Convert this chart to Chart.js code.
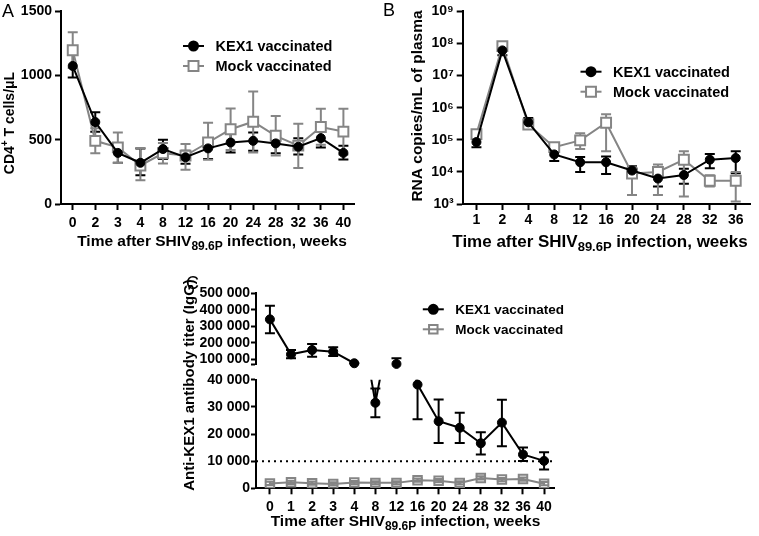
<!DOCTYPE html>
<html>
<head>
<meta charset="utf-8">
<script src="https://cdn.jsdelivr.net/npm/chart.js@4.4.0/dist/chart.umd.min.js"></script>
<style>
body { margin: 0; background: #fff; width: 759px; height: 536px; position: relative; overflow: hidden; }
canvas { position: absolute; }
</style>
</head>
<body>
<canvas id="chartA" width="380" height="260" style="left:0;top:0"></canvas>
<canvas id="chartB" width="379" height="260" style="left:380px;top:0"></canvas>
<canvas id="chartC2" width="420" height="276" style="left:180px;top:260px"></canvas>
<canvas id="chartC1" width="420" height="276" style="left:180px;top:260px"></canvas>
<script>
// panel A: CD4+ T cells
var weeksA = ['0', '2', '3', '4', '8', '12', '16', '20', '24', '28', '32', '36', '40'];
var kexA = [1075, 638, 398, 321, 428, 364, 433, 479, 492, 472, 446, 513, 398];
var kexALo = [985, 562, 321, 223, 351, 313, 351, 402, 415, 395, 385, 441, 346];
var kexAHi = [1160, 715, 472, 433, 500, 415, 505, 556, 556, 544, 513, 590, 454];
var mockA = [1198, 492, 441, 300, 395, 377, 479, 582, 641, 531, 455, 600, 564];
var mockALo = [1060, 395, 320, 185, 315, 267, 344, 420, 402, 377, 280, 462, 385];
var mockAHi = [1338, 590, 556, 436, 475, 467, 633, 744, 877, 685, 625, 741, 741];

// panel B: viral RNA
var weeksB = ['1', '2', '4', '8', '12', '16', '20', '24', '28', '32', '36'];
var kexB = [8.5e4, 6.1e7, 3.5e5, 3.5e4, 2.0e4, 2.0e4, 1.1e4, 6.2e3, 8.0e3, 2.4e4, 2.7e4];
var kexBLo = [5.9e4, 4.3e7, 2.5e5, 2.2e4, 1.0e4, 8.6e3, 8.5e3, 3.5e3, 4.3e3, 1.3e4, 9.0e3];
var kexBHi = [1.2e5, 8.0e7, 4.8e5, 5.2e4, 2.9e4, 3.0e4, 1.5e4, 9.0e3, 1.25e4, 3.6e4, 4.4e4];
var mockB = [1.5e5, 8.3e7, 3.0e5, 5.9e4, 9.6e4, 3.4e5, 8.9e3, 1.0e4, 2.4e4, 5.3e3, 5.3e3];
var mockBLo = [1.1e5, 6.5e7, 2.2e5, 4.6e4, 5.2e4, 4.4e4, 1.9e3, 1.9e3, 1.7e3, 3.5e3, 1.2e3];
var mockBHi = [1.9e5, 1.0e8, 4.1e5, 7.0e4, 1.6e5, 6.2e5, 1.4e4, 1.7e4, 4.4e4, 7.9e3, 1.0e4];
var powersB = [3, 4, 5, 6, 7, 8, 9];

// panel C: anti-KEX1 titer (broken axis)
var weeksC = ['0', '1', '2', '3', '4', '8', '12', '16', '20', '24', '28', '32', '36', '40'];
var kexC = [342000, 130000, 156000, 146000, 76000, 31500, 72000, 38200, 24700, 22300, 16600, 24200, 12450, 10100];
var kexCLo = [258000, 106000, 116000, 120000, 76000, 26200, 60000, 25400, 16700, 16700, 12450, 15500, 10100, 6950];
var kexCHi = [425000, 156000, 193000, 173000, 76000, 36800, 106000, 45000, 32700, 27800, 20600, 32600, 15000, 13300];
var mockC = [1800, 2200, 1900, 1600, 2100, 2000, 2000, 3000, 2800, 2000, 3800, 3200, 3400, 1700];
var mockCLo = [1200, 1600, 1300, 1000, 1500, 1400, 1400, 2400, 2200, 1400, 3200, 2600, 2800, 1100];
var mockCHi = [2400, 2800, 2500, 2200, 2700, 2600, 2600, 3600, 3400, 2600, 4400, 3800, 4000, 2300];
var ticksCTop = [100000, 200000, 300000, 400000, 500000];
var ticksCLow = [0, 10000, 20000, 30000, 40000];
var topMinC = 66000;
var cutoffC = 10000;
var breakC = 50000;

var FONT = "'Liberation Sans', Arial, Helvetica, sans-serif";
var GRAY = '#858585';

function pts(vals) {
    return vals.map(function (v, i) { return {x: i, y: v}; });
}
function spaced(v) {
    return String(v).replace(/\B(?=(\d{3})+(?!\d))/g, ' ');
}

// error bars drawn under the lines
var errorBars = {
    id: 'errorBars',
    beforeDatasetsDraw: function (chart) {
        var ctx = chart.ctx, a = chart.chartArea;
        ctx.save();
        ctx.beginPath();
        ctx.rect(a.left - 10, a.top, a.right - a.left + 20, a.bottom - a.top);
        ctx.clip();
        chart.data.datasets.forEach(function (ds, i) {
            if (!ds.errLo) return;
            var meta = chart.getDatasetMeta(i);
            var ys = chart.scales[meta.yAxisID];
            ctx.strokeStyle = ds.borderColor;
            ctx.lineWidth = 2;
            meta.data.forEach(function (pt, j) {
                if (ds.data[j].y == null) return;
                var y1 = ys.getPixelForValue(ds.errHi[j]);
                var y2 = ys.getPixelForValue(ds.errLo[j]);
                ctx.beginPath();
                ctx.moveTo(pt.x, y1); ctx.lineTo(pt.x, y2);
                ctx.moveTo(pt.x - 5, y1); ctx.lineTo(pt.x + 5, y1);
                ctx.moveTo(pt.x - 5, y2); ctx.lineTo(pt.x + 5, y2);
                ctx.stroke();
            });
        });
        ctx.restore();
    }
};

// legend: line with marker, then label
function legendPlugin(x, ys, size, items) {
    return {
        id: 'legendLines',
        afterDraw: function (chart) {
            var ctx = chart.ctx;
            ctx.save();
            items.forEach(function (it, k) {
                var y = ys[k];
                ctx.strokeStyle = it.color;
                ctx.lineWidth = 2;
                ctx.beginPath();
                ctx.moveTo(x - 10.5, y); ctx.lineTo(x + 10.5, y);
                ctx.stroke();
                ctx.fillStyle = it.fill;
                Chart.helpers.drawPoint(ctx, {pointStyle: it.style, radius: it.radius, borderWidth: 2, rotation: 0}, x, y);
                ctx.fillStyle = '#000';
                ctx.font = 'bold ' + size + 'px ' + FONT;
                ctx.textAlign = 'left';
                ctx.textBaseline = 'middle';
                ctx.fillText(it.label, x + 22, y + 1);
            });
            ctx.restore();
        }
    };
}

// free texts: titles with sub/superscripts, panel letters
function textPlugin(items) {
    return {
        id: 'texts',
        afterDraw: function (chart) {
            var ctx = chart.ctx;
            items.forEach(function (it) {
                ctx.save();
                ctx.translate(it.x, it.y);
                if (it.rotate) ctx.rotate(it.rotate);
                ctx.fillStyle = '#000';
                ctx.textBaseline = 'middle';
                ctx.textAlign = 'left';
                var widths = [], total = 0;
                it.parts.forEach(function (p) {
                    ctx.font = (p.weight || 'bold') + ' ' + p.size + 'px ' + FONT;
                    var w = ctx.measureText(p.t).width;
                    widths.push(w);
                    total += w;
                });
                var cx = it.align === 'left' ? 0 : -total / 2;
                it.parts.forEach(function (p, k) {
                    ctx.font = (p.weight || 'bold') + ' ' + p.size + 'px ' + FONT;
                    ctx.fillText(p.t, cx, p.dy || 0);
                    cx += widths[k];
                });
                ctx.restore();
            });
        }
    };
}

function xTitle(x, y, size, sub) {
    return {x: x, y: y, parts: [
        {t: 'Time after SHIV', size: size},
        {t: '89.6P', size: sub, dy: 5},
        {t: ' infection, weeks', size: size}
    ]};
}

function yAxis(width, opts) {
    return Object.assign({
        border: {color: '#000', width: 2},
        grid: {drawOnChartArea: false, drawTicks: true, tickLength: 6, tickWidth: 2, tickColor: '#000'},
        afterFit: function (s) { s.width = width; }
    }, opts);
}
function xAxis(height, labels, min, max, pad) {
    return {
        type: 'linear', min: min, max: max,
        border: {color: '#000', width: 2},
        grid: {drawOnChartArea: false, drawTicks: true, tickLength: 6, tickWidth: 2, tickColor: '#000'},
        ticks: {
            stepSize: 1, includeBounds: false, autoSkip: false, maxRotation: 0, padding: pad,
            color: '#000', font: {family: FONT, size: 14, weight: 'bold'},
            callback: function (v) { return labels[Math.round(v)]; }
        },
        afterFit: function (s) { s.height = height; }
    };
}

function kexSet(vals, lo, hi) {
    return {
        label: 'KEX1 vaccinated', data: pts(vals), errLo: lo, errHi: hi,
        borderColor: '#000', backgroundColor: '#000', borderWidth: 2,
        pointStyle: 'circle', pointRadius: 4.5, pointBorderWidth: 1, pointBackgroundColor: '#000'
    };
}
function mockSet(vals, lo, hi, radius, fill) {
    return {
        label: 'Mock vaccinated', data: pts(vals), errLo: lo, errHi: hi,
        borderColor: GRAY, backgroundColor: fill, borderWidth: 2,
        pointStyle: 'rect', pointRadius: radius, pointBorderWidth: 2, pointBackgroundColor: fill
    };
}

var common = {
    responsive: false, animation: false, events: [],
    plugins: {legend: {display: false}, tooltip: {enabled: false}}
};
var tickFont = {family: FONT, size: 14, weight: 'bold'};
var gridC = {drawOnChartArea: false, drawTicks: true, tickLength: 5, tickWidth: 2, tickColor: '#000'};

// ---------- A ----------
new Chart(document.getElementById('chartA').getContext('2d'), {
    type: 'line',
    data: {datasets: [kexSet(kexA, kexALo, kexAHi), mockSet(mockA, mockALo, mockAHi, 7, '#fff')]},
    options: Object.assign({}, common, {
        layout: {padding: {top: 9.3, right: 26, left: 0, bottom: 0}},
        scales: {
            x: xAxis(56, weeksA, -0.52, 12.47, 5),
            y: yAxis(61, {
                min: 0, max: 1500,
                ticks: {stepSize: 500, padding: 3, color: '#000', font: tickFont, callback: function (v) { return String(v); }}
            })
        }
    }),
    plugins: [errorBars,
        legendPlugin(193.5, [46, 66], 14.5, [
            {label: 'KEX1 vaccinated', color: '#000', fill: '#000', style: 'circle', radius: 4.5},
            {label: 'Mock vaccinated', color: GRAY, fill: '#fff', style: 'rect', radius: 7}
        ]),
        textPlugin([
            {x: 2, y: 12, align: 'left', parts: [{t: 'A', size: 18, weight: 'normal'}]},
            {x: 10, y: 123, rotate: -Math.PI / 2, parts: [
                {t: 'CD4', size: 14}, {t: '+', size: 10, dy: -5}, {t: ' T cells/\u03bcL', size: 14}
            ]},
            xTitle(212, 242, 15.5, 12)
        ])]
});

// ---------- B ----------
var supDigits = {3: '\u00b3', 4: '\u2074', 5: '\u2075', 6: '\u2076', 7: '\u2077', 8: '\u2078', 9: '\u2079'};
new Chart(document.getElementById('chartB').getContext('2d'), {
    type: 'line',
    data: {datasets: [kexSet(kexB, kexBLo, kexBHi), mockSet(mockB, mockBLo, mockBHi, 7, '#fff')]},
    options: Object.assign({}, common, {
        layout: {padding: {top: 10, right: 0.7, left: 0, bottom: 0}},
        scales: {
            x: xAxis(56, weeksB, -0.53, 10.55, 1.5),
            y: yAxis(82.7, {
                type: 'logarithmic', min: 1e3, max: 1e9,
                afterBuildTicks: function (s) {
                    s.ticks = powersB.map(function (p) { return {value: Math.pow(10, p)}; });
                },
                ticks: {padding: 3, autoSkip: false, color: '#000', font: tickFont, callback: function (v) {
                    return '10' + supDigits[Math.round(Math.log10(v))];
                }}
            })
        }
    }),
    plugins: [errorBars,
        legendPlugin(211, [71.7, 91.7], 14.5, [
            {label: 'KEX1 vaccinated', color: '#000', fill: '#000', style: 'circle', radius: 4.5},
            {label: 'Mock vaccinated', color: GRAY, fill: '#fff', style: 'rect', radius: 7}
        ]),
        textPlugin([
            {x: 3, y: 11, align: 'left', parts: [{t: 'B', size: 18, weight: 'normal'}]},
            {x: 38, y: 106, rotate: -Math.PI / 2, parts: [{t: 'RNA copies/mL of plasma', size: 15.5}]},
            xTitle(220, 242, 17, 13)
        ])]
});

// ---------- C (lower segment, 0-40 000) ----------
var xMinC = -0.66, xMaxC = 13.47;
new Chart(document.getElementById('chartC2').getContext('2d'), {
    type: 'line',
    data: {datasets: [
        kexSet(kexC, kexCLo, kexCHi),
        mockSet(mockC, mockCLo, mockCHi, 6, 'rgba(0,0,0,0)'),
        {label: 'cutoff', data: [{x: xMinC, y: cutoffC}, {x: xMaxC, y: cutoffC}],
         borderColor: '#000', borderWidth: 2, borderDash: [2, 4], pointRadius: 0}
    ]},
    options: Object.assign({}, common, {
        layout: {padding: {top: 119.7, right: 46, left: 0, bottom: 0}},
        scales: {
            x: xAxis(47.7, weeksC, xMinC, xMaxC, 4),
            y: yAxis(76, {
                min: 0, max: 40000, grid: gridC,
                afterBuildTicks: function (s) {
                    s.ticks = ticksCLow.map(function (v) { return {value: v}; });
                },
                ticks: {padding: 1, autoSkip: false, color: '#000', font: tickFont, callback: function (v) { return spaced(v); }}
            })
        }
    }),
    plugins: [errorBars,
        textPlugin([
            {x: 6, y: 24, align: 'left', parts: [{t: 'C', size: 18, weight: 'normal'}]},
            {x: 10, y: 125, rotate: -Math.PI / 2, parts: [{t: 'Anti-KEX1 antibody titer (IgG)', size: 15}]},
            xTitle(225.5, 262, 15.5, 12)
        ])]
});

// ---------- C (upper segment, above the break) ----------
var kexCTop = kexC.map(function (v) { return v >= breakC ? v : null; });
var topSet = kexSet(kexCTop, kexCLo, kexCHi);
topSet.clip = false;
new Chart(document.getElementById('chartC1').getContext('2d'), {
    type: 'line',
    data: {datasets: [topSet]},
    options: Object.assign({}, common, {
        layout: {padding: {top: 33.3, right: 46, left: 0, bottom: 171.1}},
        scales: {
            x: {type: 'linear', min: xMinC, max: xMaxC, display: false},
            y: yAxis(76, {
                min: topMinC, max: 500000, grid: gridC,
                afterBuildTicks: function (s) {
                    s.ticks = [topMinC].concat(ticksCTop).map(function (v) { return {value: v}; });
                },
                ticks: {padding: 1, autoSkip: false, color: '#000', font: tickFont, callback: function (v) {
                    return v === topMinC ? '' : spaced(v);
                }}
            })
        }
    }),
    plugins: [errorBars,
        legendPlugin(253.3, [49.3, 69.3], 13.5, [
            {label: 'KEX1 vaccinated', color: '#000', fill: '#000', style: 'circle', radius: 4.5},
            {label: 'Mock vaccinated', color: GRAY, fill: 'rgba(0,0,0,0)', style: 'rect', radius: 6}
        ])]
});
</script>
</body>
</html>
